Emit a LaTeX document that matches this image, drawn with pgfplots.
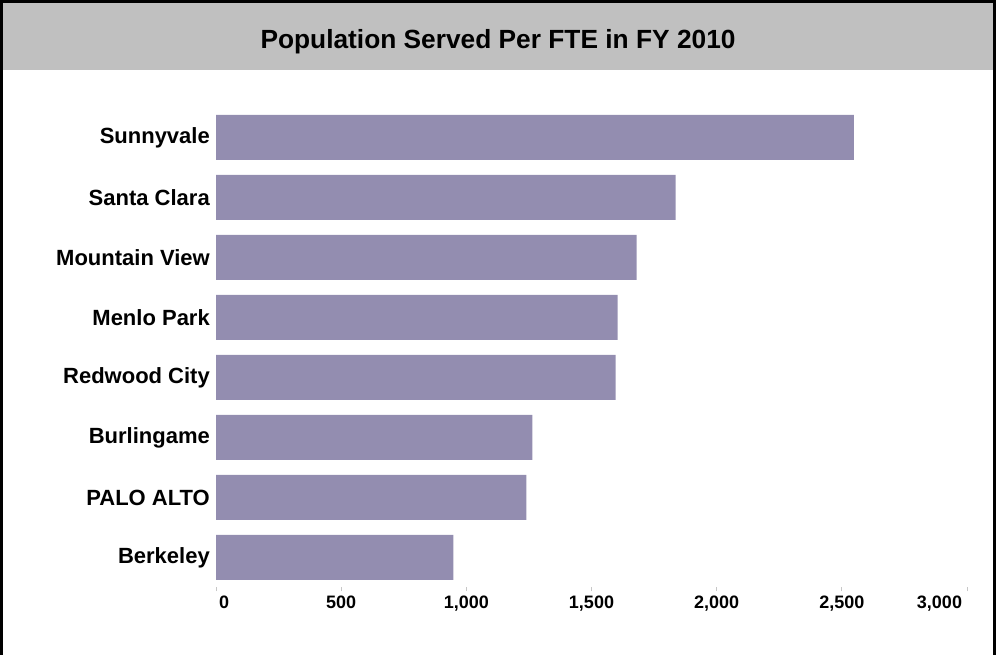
\documentclass[border=0pt]{standalone}
\usepackage{pgfplots}
\pgfplotsset{compat=1.18}
\usepackage{fontspec}
\setmainfont{Liberation Sans}
\definecolor{barcol}{RGB}{147,141,176}
\definecolor{band}{RGB}{192,192,192}
\begin{document}
\begin{tikzpicture}[x=1bp,y=1bp]
\useasboundingbox (0,0) rectangle (996,655);
% title band and frame
\fill[band] (0,655) rectangle (996,585);
\draw[line width=3bp] (1.5,0) -- (1.5,653.5) -- (994.5,653.5) -- (994.5,0);
\node[anchor=base, font=\fontsize{26.3bp}{30bp}\selectfont\bfseries]
  at (498,606) {Population Served Per FTE in FY 2010};
\begin{axis}[
  at={(216bp,67.5bp)}, anchor=south west,
  scale only axis, width=751bp, height=480bp,
  xmin=0, xmax=3000, ymin=-0.5, ymax=7.5,
  xbar, bar width=45bp, bar shift=0pt,
  axis line style={draw=none},
  tick align=outside, major tick length=4bp,
  xtick pos=bottom, ytick pos=left,
  xtick style={draw=black!22, line width=0.8bp},
  ytick style={draw=none},
  xtick={0,500,1000,1500,2000,2500,3000},
  xticklabels={\makebox[0pt][l]{\hspace{3bp}0},500,{1,000},{1,500},{2,000},{2,500},\makebox[0pt][r]{3,000\hspace{5bp}}},
  ytick={0,1,2,3,4,5,6,7},
  yticklabels={Berkeley,PALO ALTO,Burlingame,Redwood City,Menlo Park,Mountain View,Santa Clara,Sunnyvale},
  xticklabel style={font=\fontsize{18bp}{20bp}\selectfont\bfseries, inner ysep=4.5bp},
  yticklabel style={font=\fontsize{22bp}{24bp}\selectfont\bfseries, inner xsep=2bp},
]
\addplot[fill=barcol, draw=none] coordinates {
  (948,0) (1240,1) (1264,2) (1596,3) (1604,4) (1680,5) (1836,6) (2548,7)
};
\end{axis}
\end{tikzpicture}
\end{document}
